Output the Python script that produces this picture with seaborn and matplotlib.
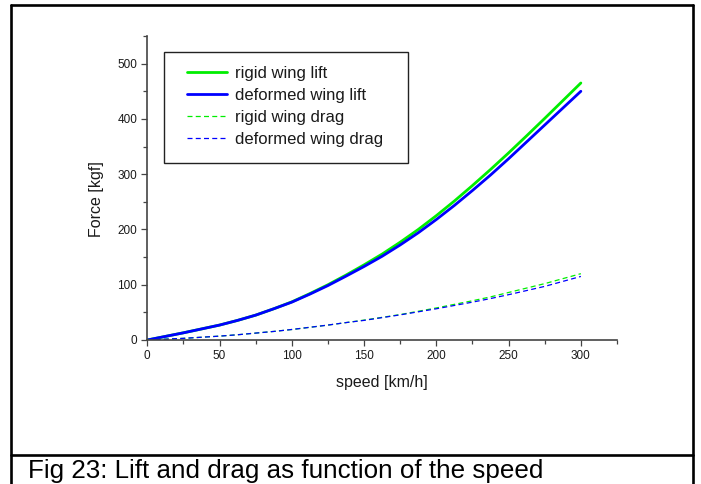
import numpy as np
import pandas as pd
import matplotlib
matplotlib.use("Agg")
import matplotlib.pyplot as plt
from matplotlib.lines import Line2D
from matplotlib.patches import Rectangle
from matplotlib.ticker import MultipleLocator
import seaborn as sns

# Aerodynamic forces vs. speed
speed = [0, 12.5, 25, 37.5, 50, 62.5, 75, 87.5, 100, 112.5, 125, 137.5, 150,
         162.5, 175, 187.5, 200, 212.5, 225, 237.5, 250, 262.5, 275, 287.5, 300]
rigid_lift = [0, 6.5, 13, 20, 27, 35.5, 45, 56.5, 69, 84, 100, 117.5, 136,
              155.5, 177, 200, 225, 251.5, 279.5, 308.5, 338.5, 369.5, 401,
              433, 465]
deformed_lift = [0, 6.5, 13, 20, 27, 35.5, 45, 56.5, 68.5, 83, 98.5, 115.5,
                 133, 151.5, 172, 194, 218, 243.5, 270.5, 298.5, 328, 358.5,
                 389, 419.5, 450]
rigid_drag = [0, 1.5, 3, 5, 7, 9.5, 12.5, 15.5, 19, 23, 27, 31.5, 36,
              41, 46, 52, 58, 64.5, 71, 78, 86, 94, 102, 111, 120]
deformed_drag = [0, 1.5, 3, 5, 7, 9.5, 12.5, 15.5, 19, 23, 27, 31.5, 35.5,
                 40.5, 45.5, 51, 56.5, 62.5, 68.5, 75, 82, 89.5, 97, 106, 115]

series_names = ["rigid wing lift", "deformed wing lift",
                "rigid wing drag", "deformed wing drag"]
series_values = [rigid_lift, deformed_lift, rigid_drag, deformed_drag]

x_ticks = [0, 50, 100, 150, 200, 250, 300]
y_ticks = [0, 100, 200, 300, 400, 500]

df = pd.DataFrame({
    "speed": np.tile(speed, len(series_names)),
    "force": np.concatenate(series_values),
    "series": np.repeat(series_names, len(speed)),
})

sns.set_theme(style="ticks")
plt.rcParams["font.family"] = ["Liberation Sans", "DejaVu Sans"]

GREEN = "#00EE00"
BLUE = "#0000FF"
styles = {
    "rigid wing lift": dict(color=GREEN, lw=2.0, ls="-"),
    "deformed wing lift": dict(color=BLUE, lw=2.0, ls="-"),
    "rigid wing drag": dict(color=GREEN, lw=0.9, ls=(0, (4, 2.6))),
    "deformed wing drag": dict(color=BLUE, lw=0.9, ls=(0, (4, 2.6))),
}

W, H = 701, 484
fig = plt.figure(figsize=(W / 100, H / 100), dpi=100)
ax = fig.add_axes([147.3 / W, 1 - 340 / H, (617 - 147.3) / W, (340 - 36) / H])

for name in series_names:
    st = styles[name]
    sns.lineplot(data=df[df["series"] == name], x="speed", y="force",
                 ax=ax, color=st["color"], linewidth=st["lw"],
                 linestyle=st["ls"], label=name, legend=False)

ax.set_xlim(0, 325)
ax.set_ylim(0, 550)
ax.set_xticks(x_ticks)
ax.set_yticks(y_ticks)
ax.xaxis.set_minor_locator(MultipleLocator(25))
ax.yaxis.set_minor_locator(MultipleLocator(50))

for side in ("top", "right"):
    ax.spines[side].set_visible(False)
for side in ("left", "bottom"):
    ax.spines[side].set_color("#444444")
    ax.spines[side].set_linewidth(1.2)

ax.tick_params(which="major", direction="out", length=4.2, width=0.9,
               color="#444444", labelsize=8.5, labelcolor="#1a1a1a", pad=3)
ax.tick_params(which="minor", direction="out", length=2.6, width=0.9,
               color="#444444")

ax.set_xlabel("speed [km/h]", fontsize=11.5, color="#1a1a1a")
ax.set_ylabel("Force [kgf]", fontsize=11.5, color="#1a1a1a")
ax.xaxis.label.set_va("center")
ax.yaxis.label.set_va("center")
ax.xaxis.set_label_coords(0.5, -43 / 304)
ax.yaxis.set_label_coords((97 - 147.3) / 469.7, (340 - 199) / 304)

# legend without its own frame; the box is drawn separately
handles = [Line2D([0], [0], color=styles[n]["color"], lw=styles[n]["lw"],
                  ls=styles[n]["ls"]) for n in series_names]
leg = fig.legend(handles, series_names, loc="upper left",
                 bbox_to_anchor=(187 / W, 1 - 66 / H), frameon=False,
                 fontsize=12, handlelength=2.4, handletextpad=0.5,
                 labelspacing=0.425, borderpad=0, borderaxespad=0)
for t in leg.get_texts():
    t.set_color("#1a1a1a")
fig.patches.append(Rectangle((164 / W, 1 - 163 / H), (408 - 164) / W,
                             (163 - 52) / H, transform=fig.transFigure,
                             fill=False, edgecolor="#222222", lw=1.0,
                             zorder=5))

# page frame and caption box
frame_kw = dict(transform=fig.transFigure, color="black", lw=1.9)
fig.lines.append(Line2D([11 / W, 11 / W], [0, 1 - 5 / H], **frame_kw))
fig.lines.append(Line2D([693 / W, 693 / W], [0, 1 - 5 / H], **frame_kw))
fig.lines.append(Line2D([11 / W, 693 / W], [1 - 5 / H, 1 - 5 / H], **frame_kw))
fig.lines.append(Line2D([11 / W, 693 / W], [1 - 455 / H, 1 - 455 / H], **frame_kw))

fig.text(28 / W, 1 - 478 / H, "Fig 23: Lift and drag as function of the speed",
         fontsize=18.7, color="black", va="baseline", ha="left")

fig.savefig("out.png", dpi=100)
